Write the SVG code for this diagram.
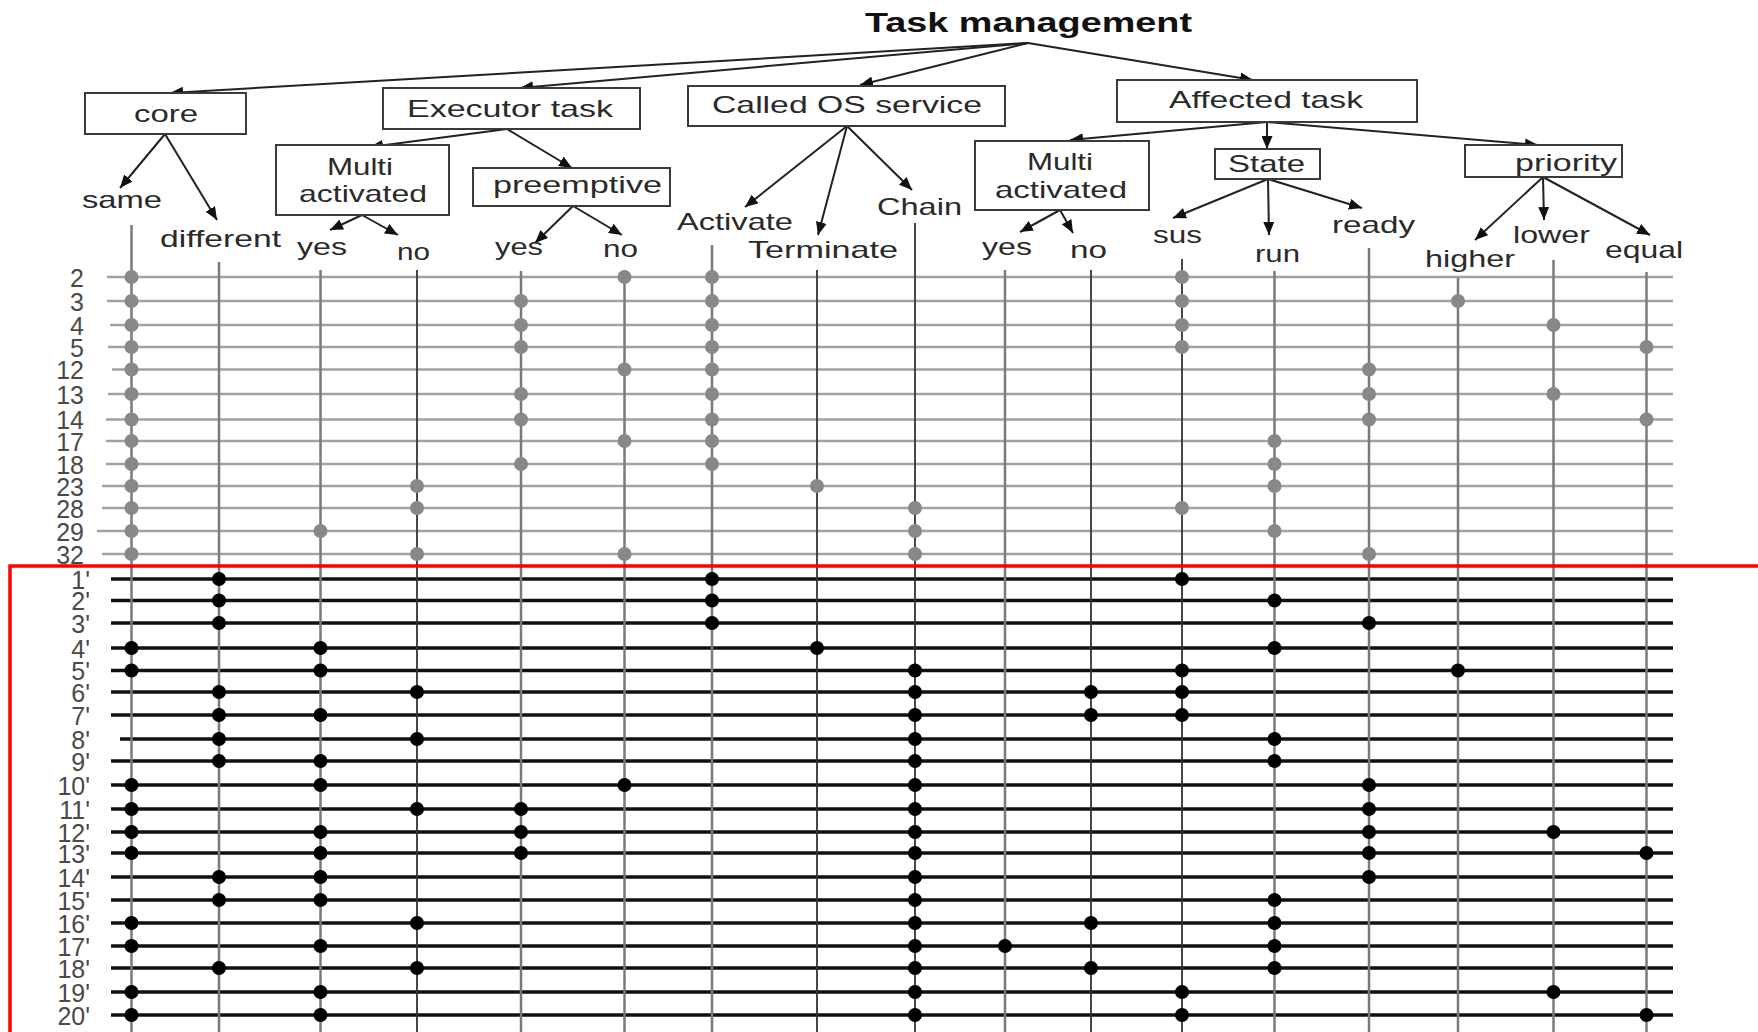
<svg xmlns="http://www.w3.org/2000/svg" width="1758" height="1032" viewBox="0 0 1758 1032">
<style>
  text { font-family: "Liberation Sans", Arial, sans-serif; fill: #2a2a2a; }
  .title { font-size: 28px; font-weight: bold; fill: #111; }
  .lbl { font-size: 24px; }
  .num { font-size: 25px; fill: #4a4a4a; text-anchor: end; }
  .box { fill: #fff; stroke: #3a3a3a; stroke-width: 2; }
  .con { stroke: #222; stroke-width: 2; fill: none; marker-end: url(#ah); }
  .vg { stroke: #7a7a7a; stroke-width: 2.5; }
  .vd { stroke: #333; stroke-width: 1.8; }
  .hg { stroke: #a2a2a2; stroke-width: 2.5; }
  .hb { stroke: #111; stroke-width: 3.5; }
  .dg { fill: #888; }
  .db { fill: #000; }
</style>
<defs>
  <marker id="ah" markerUnits="userSpaceOnUse" markerWidth="14" markerHeight="11" refX="13" refY="5.5" orient="auto">
    <path d="M0,0 L13,5.5 L0,11 z" fill="#111"/>
  </marker>
</defs>
<rect width="1758" height="1032" fill="#fff"/>

<!-- grid: horizontal rows -->
<g id="grid-rows">
  <line class="hg" x1="107" y1="277" x2="1673" y2="277"/>
  <line class="hg" x1="107" y1="301" x2="1673" y2="301"/>
  <line class="hg" x1="110" y1="325" x2="1673" y2="325"/>
  <line class="hg" x1="108" y1="347" x2="1673" y2="347"/>
  <line class="hg" x1="112" y1="369.5" x2="1673" y2="369.5"/>
  <line class="hg" x1="108" y1="394" x2="1673" y2="394"/>
  <line class="hg" x1="106" y1="419.5" x2="1673" y2="419.5"/>
  <line class="hg" x1="106" y1="441" x2="1673" y2="441"/>
  <line class="hg" x1="106" y1="464" x2="1673" y2="464"/>
  <line class="hg" x1="102" y1="486" x2="1673" y2="486"/>
  <line class="hg" x1="102" y1="508" x2="1673" y2="508"/>
  <line class="hg" x1="97" y1="531" x2="1673" y2="531"/>
  <line class="hg" x1="102" y1="554" x2="1673" y2="554"/>

  <line class="hb" x1="111" y1="579" x2="1673" y2="579"/>
  <line class="hb" x1="111" y1="600.5" x2="1673" y2="600.5"/>
  <line class="hb" x1="111" y1="623" x2="1673" y2="623"/>
  <line class="hb" x1="111" y1="648" x2="1673" y2="648"/>
  <line class="hb" x1="111" y1="670.5" x2="1673" y2="670.5"/>
  <line class="hb" x1="111" y1="692" x2="1673" y2="692"/>
  <line class="hb" x1="111" y1="715" x2="1673" y2="715"/>
  <line class="hb" x1="120" y1="739" x2="1673" y2="739"/>
  <line class="hb" x1="111" y1="761" x2="1673" y2="761"/>
  <line class="hb" x1="111" y1="785" x2="1673" y2="785"/>
  <line class="hb" x1="111" y1="809" x2="1673" y2="809"/>
  <line class="hb" x1="111" y1="832" x2="1673" y2="832"/>
  <line class="hb" x1="111" y1="853" x2="1673" y2="853"/>
  <line class="hb" x1="111" y1="877" x2="1673" y2="877"/>
  <line class="hb" x1="111" y1="900" x2="1673" y2="900"/>
  <line class="hb" x1="111" y1="923" x2="1673" y2="923"/>
  <line class="hb" x1="111" y1="946" x2="1673" y2="946"/>
  <line class="hb" x1="111" y1="968" x2="1673" y2="968"/>
  <line class="hb" x1="111" y1="992" x2="1673" y2="992"/>
  <line class="hb" x1="111" y1="1015" x2="1673" y2="1015"/>
</g>

<!-- grid: vertical columns -->
<g id="grid-columns">
  <line class="vg" x1="131.5" y1="225" x2="131.5" y2="1032"/>
  <line class="vg" x1="219" y1="262" x2="219" y2="1032"/>
  <line class="vg" x1="320.5" y1="270" x2="320.5" y2="1032"/>
  <line class="vd" x1="417" y1="270" x2="417" y2="1032"/>
  <line class="vg" x1="521" y1="271" x2="521" y2="1032"/>
  <line class="vg" x1="624.5" y1="270" x2="624.5" y2="1032"/>
  <line class="vg" x1="712" y1="245" x2="712" y2="1032"/>
  <line class="vd" x1="817" y1="270" x2="817" y2="1032"/>
  <line class="vd" x1="915" y1="223" x2="915" y2="1032"/>
  <line class="vg" x1="1005" y1="270" x2="1005" y2="1032"/>
  <line class="vd" x1="1091" y1="270" x2="1091" y2="1032"/>
  <line class="vd" x1="1182" y1="259" x2="1182" y2="1032"/>
  <line class="vg" x1="1274.5" y1="271" x2="1274.5" y2="1032"/>
  <line class="vg" x1="1369" y1="248" x2="1369" y2="1032"/>
  <line class="vg" x1="1458" y1="278" x2="1458" y2="1032"/>
  <line class="vg" x1="1553.5" y1="260" x2="1553.5" y2="1032"/>
  <line class="vg" x1="1646.5" y1="272" x2="1646.5" y2="1032"/>
</g>

<!-- row labels -->
<g id="row-labels">
  <text class="num" x="84" y="286.5">2</text>
  <text class="num" x="84" y="310.5">3</text>
  <text class="num" x="84" y="334.5">4</text>
  <text class="num" x="84" y="356.5">5</text>
  <text class="num" x="84" y="379">12</text>
  <text class="num" x="84" y="403.5">13</text>
  <text class="num" x="84" y="429">14</text>
  <text class="num" x="84" y="450.5">17</text>
  <text class="num" x="84" y="473.5">18</text>
  <text class="num" x="84" y="495.5">23</text>
  <text class="num" x="84" y="517.5">28</text>
  <text class="num" x="84" y="540.5">29</text>
  <text class="num" x="84" y="563.5">32</text>

  <text class="num" x="90" y="588.5">1'</text>
  <text class="num" x="90" y="610">2'</text>
  <text class="num" x="90" y="632.5">3'</text>
  <text class="num" x="90" y="657.5">4'</text>
  <text class="num" x="90" y="680">5'</text>
  <text class="num" x="90" y="701.5">6'</text>
  <text class="num" x="90" y="724.5">7'</text>
  <text class="num" x="90" y="748.5">8'</text>
  <text class="num" x="90" y="770.5">9'</text>
  <text class="num" x="90" y="794.5">10'</text>
  <text class="num" x="90" y="818.5">11'</text>
  <text class="num" x="90" y="841.5">12'</text>
  <text class="num" x="90" y="862.5">13'</text>
  <text class="num" x="90" y="886.5">14'</text>
  <text class="num" x="90" y="909.5">15'</text>
  <text class="num" x="90" y="932.5">16'</text>
  <text class="num" x="90" y="955.5">17'</text>
  <text class="num" x="90" y="977.5">18'</text>
  <text class="num" x="90" y="1001.5">19'</text>
  <text class="num" x="90" y="1024.5">20'</text>
</g>

<!-- dots -->
<g id="dots-gray" class="dg">
  <circle cx="131.5" cy="277" r="7"/><circle cx="624.5" cy="277" r="7"/><circle cx="712" cy="277" r="7"/><circle cx="1182" cy="277" r="7"/>
  <circle cx="131.5" cy="301" r="7"/><circle cx="521" cy="301" r="7"/><circle cx="712" cy="301" r="7"/><circle cx="1182" cy="301" r="7"/><circle cx="1458" cy="301" r="7"/>
  <circle cx="131.5" cy="325" r="7"/><circle cx="521" cy="325" r="7"/><circle cx="712" cy="325" r="7"/><circle cx="1182" cy="325" r="7"/><circle cx="1553.5" cy="325" r="7"/>
  <circle cx="131.5" cy="347" r="7"/><circle cx="521" cy="347" r="7"/><circle cx="712" cy="347" r="7"/><circle cx="1182" cy="347" r="7"/><circle cx="1646.5" cy="347" r="7"/>
  <circle cx="131.5" cy="369.5" r="7"/><circle cx="624.5" cy="369.5" r="7"/><circle cx="712" cy="369.5" r="7"/><circle cx="1369" cy="369.5" r="7"/>
  <circle cx="131.5" cy="394" r="7"/><circle cx="521" cy="394" r="7"/><circle cx="712" cy="394" r="7"/><circle cx="1369" cy="394" r="7"/><circle cx="1553.5" cy="394" r="7"/>
  <circle cx="131.5" cy="419.5" r="7"/><circle cx="521" cy="419.5" r="7"/><circle cx="712" cy="419.5" r="7"/><circle cx="1369" cy="419.5" r="7"/><circle cx="1646.5" cy="419.5" r="7"/>
  <circle cx="131.5" cy="441" r="7"/><circle cx="624.5" cy="441" r="7"/><circle cx="712" cy="441" r="7"/><circle cx="1274.5" cy="441" r="7"/>
  <circle cx="131.5" cy="464" r="7"/><circle cx="521" cy="464" r="7"/><circle cx="712" cy="464" r="7"/><circle cx="1274.5" cy="464" r="7"/>
  <circle cx="131.5" cy="486" r="7"/><circle cx="417" cy="486" r="7"/><circle cx="817" cy="486" r="7"/><circle cx="1274.5" cy="486" r="7"/>
  <circle cx="131.5" cy="508" r="7"/><circle cx="417" cy="508" r="7"/><circle cx="915" cy="508" r="7"/><circle cx="1182" cy="508" r="7"/>
  <circle cx="131.5" cy="531" r="7"/><circle cx="320.5" cy="531" r="7"/><circle cx="915" cy="531" r="7"/><circle cx="1274.5" cy="531" r="7"/>
  <circle cx="131.5" cy="554" r="7"/><circle cx="417" cy="554" r="7"/><circle cx="624.5" cy="554" r="7"/><circle cx="915" cy="554" r="7"/><circle cx="1369" cy="554" r="7"/>
</g>
<g id="dots-black" class="db">
  <circle cx="219" cy="579" r="7"/><circle cx="712" cy="579" r="7"/><circle cx="1182" cy="579" r="7"/>
  <circle cx="219" cy="600.5" r="7"/><circle cx="712" cy="600.5" r="7"/><circle cx="1274.5" cy="600.5" r="7"/>
  <circle cx="219" cy="623" r="7"/><circle cx="712" cy="623" r="7"/><circle cx="1369" cy="623" r="7"/>
  <circle cx="131.5" cy="648" r="7"/><circle cx="320.5" cy="648" r="7"/><circle cx="817" cy="648" r="7"/><circle cx="1274.5" cy="648" r="7"/>
  <circle cx="131.5" cy="670.5" r="7"/><circle cx="320.5" cy="670.5" r="7"/><circle cx="915" cy="670.5" r="7"/><circle cx="1182" cy="670.5" r="7"/><circle cx="1458" cy="670.5" r="7"/>
  <circle cx="219" cy="692" r="7"/><circle cx="417" cy="692" r="7"/><circle cx="915" cy="692" r="7"/><circle cx="1091" cy="692" r="7"/><circle cx="1182" cy="692" r="7"/>
  <circle cx="219" cy="715" r="7"/><circle cx="320.5" cy="715" r="7"/><circle cx="915" cy="715" r="7"/><circle cx="1091" cy="715" r="7"/><circle cx="1182" cy="715" r="7"/>
  <circle cx="219" cy="739" r="7"/><circle cx="417" cy="739" r="7"/><circle cx="915" cy="739" r="7"/><circle cx="1274.5" cy="739" r="7"/>
  <circle cx="219" cy="761" r="7"/><circle cx="320.5" cy="761" r="7"/><circle cx="915" cy="761" r="7"/><circle cx="1274.5" cy="761" r="7"/>
  <circle cx="131.5" cy="785" r="7"/><circle cx="320.5" cy="785" r="7"/><circle cx="624.5" cy="785" r="7"/><circle cx="915" cy="785" r="7"/><circle cx="1369" cy="785" r="7"/>
  <circle cx="131.5" cy="809" r="7"/><circle cx="417" cy="809" r="7"/><circle cx="521" cy="809" r="7"/><circle cx="915" cy="809" r="7"/><circle cx="1369" cy="809" r="7"/>
  <circle cx="131.5" cy="832" r="7"/><circle cx="320.5" cy="832" r="7"/><circle cx="521" cy="832" r="7"/><circle cx="915" cy="832" r="7"/><circle cx="1369" cy="832" r="7"/><circle cx="1553.5" cy="832" r="7"/>
  <circle cx="131.5" cy="853" r="7"/><circle cx="320.5" cy="853" r="7"/><circle cx="521" cy="853" r="7"/><circle cx="915" cy="853" r="7"/><circle cx="1369" cy="853" r="7"/><circle cx="1646.5" cy="853" r="7"/>
  <circle cx="219" cy="877" r="7"/><circle cx="320.5" cy="877" r="7"/><circle cx="915" cy="877" r="7"/><circle cx="1369" cy="877" r="7"/>
  <circle cx="219" cy="900" r="7"/><circle cx="320.5" cy="900" r="7"/><circle cx="915" cy="900" r="7"/><circle cx="1274.5" cy="900" r="7"/>
  <circle cx="131.5" cy="923" r="7"/><circle cx="417" cy="923" r="7"/><circle cx="915" cy="923" r="7"/><circle cx="1091" cy="923" r="7"/><circle cx="1274.5" cy="923" r="7"/>
  <circle cx="131.5" cy="946" r="7"/><circle cx="320.5" cy="946" r="7"/><circle cx="915" cy="946" r="7"/><circle cx="1005" cy="946" r="7"/><circle cx="1274.5" cy="946" r="7"/>
  <circle cx="219" cy="968" r="7"/><circle cx="417" cy="968" r="7"/><circle cx="915" cy="968" r="7"/><circle cx="1091" cy="968" r="7"/><circle cx="1274.5" cy="968" r="7"/>
  <circle cx="131.5" cy="992" r="7"/><circle cx="320.5" cy="992" r="7"/><circle cx="915" cy="992" r="7"/><circle cx="1182" cy="992" r="7"/><circle cx="1553.5" cy="992" r="7"/>
  <circle cx="131.5" cy="1015" r="7"/><circle cx="320.5" cy="1015" r="7"/><circle cx="915" cy="1015" r="7"/><circle cx="1182" cy="1015" r="7"/><circle cx="1646.5" cy="1015" r="7"/>
</g>

<!-- red highlight frame -->
<rect id="highlight" x="10" y="566" width="1760" height="480" fill="none" stroke="#f00" stroke-width="3.5"/>

<!-- tree connectors -->
<g id="connectors">
  <line class="con" x1="1028" y1="43" x2="170" y2="93"/>
  <line class="con" x1="1028" y1="43" x2="520" y2="88"/>
  <line class="con" x1="1028" y1="43" x2="860" y2="85"/>
  <line class="con" x1="1028" y1="43" x2="1253" y2="80"/>
  <line class="con" x1="165" y1="134" x2="120" y2="188"/>
  <line class="con" x1="165" y1="134" x2="217" y2="220"/>
  <line class="con" x1="507" y1="129" x2="370" y2="147"/>
  <line class="con" x1="507" y1="129" x2="572" y2="168"/>
  <line class="con" x1="362" y1="215" x2="330" y2="230"/>
  <line class="con" x1="362" y1="215" x2="398" y2="235"/>
  <line class="con" x1="573" y1="206" x2="535" y2="243"/>
  <line class="con" x1="573" y1="206" x2="622" y2="235"/>
  <line class="con" x1="847" y1="126" x2="745" y2="207"/>
  <line class="con" x1="847" y1="126" x2="818" y2="235"/>
  <line class="con" x1="847" y1="126" x2="912" y2="190"/>
  <line class="con" x1="1267" y1="122" x2="1070" y2="140"/>
  <line class="con" x1="1267" y1="122" x2="1267" y2="149"/>
  <line class="con" x1="1267" y1="122" x2="1538" y2="145"/>
  <line class="con" x1="1060" y1="210" x2="1020" y2="232"/>
  <line class="con" x1="1060" y1="210" x2="1073" y2="233"/>
  <line class="con" x1="1268" y1="179" x2="1173" y2="218"/>
  <line class="con" x1="1268" y1="179" x2="1269" y2="235"/>
  <line class="con" x1="1268" y1="179" x2="1362" y2="208"/>
  <line class="con" x1="1543" y1="177" x2="1475" y2="240"/>
  <line class="con" x1="1543" y1="177" x2="1544" y2="220"/>
  <line class="con" x1="1543" y1="177" x2="1650" y2="235"/>
</g>

<!-- tree nodes -->
<g id="node-root"><text class="title" x="865" y="31.5" textLength="327" lengthAdjust="spacingAndGlyphs">Task management</text></g>
<g id="node-core"><rect class="box" x="85" y="93" width="161" height="41"/><text class="lbl" x="134" y="122" textLength="64" lengthAdjust="spacingAndGlyphs">core</text></g>
<g id="node-executor"><rect class="box" x="383" y="88" width="257" height="41"/><text class="lbl" x="407" y="117" textLength="206" lengthAdjust="spacingAndGlyphs">Executor task</text></g>
<g id="node-called"><rect class="box" x="688" y="86" width="317" height="40"/><text class="lbl" x="712" y="113" textLength="270" lengthAdjust="spacingAndGlyphs">Called OS service</text></g>
<g id="node-affected"><rect class="box" x="1117" y="80" width="300" height="42"/><text class="lbl" x="1169" y="108" textLength="194" lengthAdjust="spacingAndGlyphs">Affected task</text></g>
<g id="node-multi1"><rect class="box" x="276" y="145" width="173" height="70"/><text class="lbl" x="327" y="175" textLength="66" lengthAdjust="spacingAndGlyphs">Multi</text><text class="lbl" x="299" y="202" textLength="128" lengthAdjust="spacingAndGlyphs">activated</text></g>
<g id="node-preemptive"><rect class="box" x="473" y="168" width="197" height="38"/><text class="lbl" x="493" y="193" textLength="169" lengthAdjust="spacingAndGlyphs">preemptive</text></g>
<g id="node-multi2"><rect class="box" x="975" y="141" width="174" height="69"/><text class="lbl" x="1027" y="170" textLength="66" lengthAdjust="spacingAndGlyphs">Multi</text><text class="lbl" x="995" y="198" textLength="132" lengthAdjust="spacingAndGlyphs">activated</text></g>
<g id="node-state"><rect class="box" x="1215" y="149" width="105" height="30"/><text class="lbl" x="1228" y="172" textLength="77" lengthAdjust="spacingAndGlyphs">State</text></g>
<g id="node-priority"><rect class="box" x="1465" y="145" width="157" height="32"/><text class="lbl" x="1515" y="171" textLength="102" lengthAdjust="spacingAndGlyphs">priority</text></g>

<g id="node-same"><text class="lbl" x="82" y="208" textLength="80" lengthAdjust="spacingAndGlyphs">same</text></g>
<g id="node-different"><text class="lbl" x="160" y="247" textLength="121" lengthAdjust="spacingAndGlyphs">different</text></g>
<g id="node-ma1-yes"><text class="lbl" x="297" y="255" textLength="50" lengthAdjust="spacingAndGlyphs">yes</text></g>
<g id="node-ma1-no"><text class="lbl" x="397" y="260" textLength="33" lengthAdjust="spacingAndGlyphs">no</text></g>
<g id="node-pre-yes"><text class="lbl" x="495" y="255" textLength="48" lengthAdjust="spacingAndGlyphs">yes</text></g>
<g id="node-pre-no"><text class="lbl" x="603" y="257" textLength="35" lengthAdjust="spacingAndGlyphs">no</text></g>
<g id="node-activate"><text class="lbl" x="677" y="230" textLength="116" lengthAdjust="spacingAndGlyphs">Activate</text></g>
<g id="node-terminate"><text class="lbl" x="748" y="258" textLength="150" lengthAdjust="spacingAndGlyphs">Terminate</text></g>
<g id="node-chain"><text class="lbl" x="877" y="215" textLength="85" lengthAdjust="spacingAndGlyphs">Chain</text></g>
<g id="node-ma2-yes"><text class="lbl" x="982" y="255" textLength="50" lengthAdjust="spacingAndGlyphs">yes</text></g>
<g id="node-ma2-no"><text class="lbl" x="1070" y="258" textLength="37" lengthAdjust="spacingAndGlyphs">no</text></g>
<g id="node-sus"><text class="lbl" x="1153" y="243" textLength="49" lengthAdjust="spacingAndGlyphs">sus</text></g>
<g id="node-run"><text class="lbl" x="1255" y="262" textLength="45" lengthAdjust="spacingAndGlyphs">run</text></g>
<g id="node-ready"><text class="lbl" x="1332" y="233" textLength="83" lengthAdjust="spacingAndGlyphs">ready</text></g>
<g id="node-higher"><text class="lbl" x="1425" y="267" textLength="90" lengthAdjust="spacingAndGlyphs">higher</text></g>
<g id="node-lower"><text class="lbl" x="1513" y="243" textLength="77" lengthAdjust="spacingAndGlyphs">lower</text></g>
<g id="node-equal"><text class="lbl" x="1605" y="258" textLength="78" lengthAdjust="spacingAndGlyphs">equal</text></g>
</svg>
